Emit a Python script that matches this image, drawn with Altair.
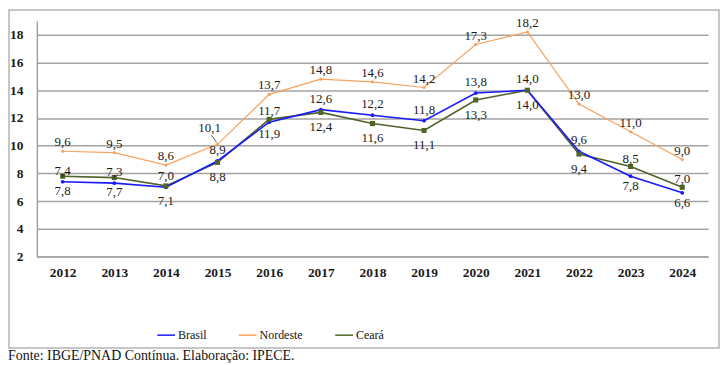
import altair as alt
import pandas as pd

years = [str(y) for y in range(2012, 2025)]
brasil = [7.4, 7.3, 7.0, 8.9, 11.7, 12.6, 12.2, 11.8, 13.8, 14.0, 9.6, 7.8, 6.6]
nordeste = [9.6, 9.5, 8.6, 10.1, 13.7, 14.8, 14.6, 14.2, 17.3, 18.2, 13.0, 11.0, 9.0]
ceara = [7.8, 7.7, 7.1, 8.8, 11.9, 12.4, 11.6, 11.1, 13.3, 14.0, 9.4, 8.5, 7.0]
y_ticks = [2, 4, 6, 8, 10, 12, 14, 16, 18]

brasil_pos = ["above"] * 11 + ["below"] * 2
nordeste_pos = ["above"] * 3 + ["leader"] + ["above"] * 9
ceara_pos = ["below"] * 11 + ["above"] * 2

series_names = ["Brasil", "Nordeste", "Ceará"]
colors = ["#1a1aff", "#f7a25e", "#4f6228"]
source_text = "Fonte: IBGE/PNAD Contínua. Elaboração: IPECE."

rows = []
for name, vals, pos in [("Brasil", brasil, brasil_pos),
                        ("Nordeste", nordeste, nordeste_pos),
                        ("Ceará", ceara, ceara_pos)]:
    for y, v, p in zip(years, vals, pos):
        rows.append({"year": y, "series": name, "value": v, "pos": p,
                     "label": f"{v:.1f}".replace(".", ",")})
df = pd.DataFrame(rows)

SERIF = "Liberation Serif"
GRID = "#a3a3a3"

x_enc = alt.X("year:O", scale=alt.Scale(type="point", padding=0.5),
              axis=alt.Axis(title=None, labelAngle=0, ticks=False, domainColor=GRID,
                            domainWidth=1.5, labelFont=SERIF, labelFontWeight="bold",
                            labelFontSize=13.5, labelColor="#1a1a1a", labelPadding=9,
                            grid=False, labelOverlap=False))
y_enc = alt.Y("value:Q", scale=alt.Scale(domain=[2, 19], nice=False, zero=False),
              axis=alt.Axis(title=None, values=y_ticks, ticks=False,
                            domainColor=GRID, domainWidth=1.5, gridColor=GRID,
                            gridWidth=1.5, labelFont=SERIF, labelFontWeight="bold",
                            labelFontSize=13.5, labelColor="#1a1a1a", labelPadding=14,
                            labelOverlap=False))
color_enc = alt.Color("series:N", scale=alt.Scale(domain=series_names, range=colors),
                      legend=alt.Legend(title=None))

base = alt.Chart(df)

layers = []
for name, sw in [("Nordeste", 1.2), ("Ceará", 1.6), ("Brasil", 1.6)]:
    layers.append(base.transform_filter(alt.datum.series == name)
                  .mark_line(strokeWidth=sw)
                  .encode(x=x_enc, y=y_enc, color=color_enc))
for name, shape, size in [("Nordeste", "circle", 10), ("Brasil", "circle", 14),
                          ("Ceará", "square", 26)]:
    layers.append(base.transform_filter(alt.datum.series == name)
                  .mark_point(shape=shape, size=size, filled=True, opacity=1)
                  .encode(x=x_enc, y=y_enc, color=color_enc))

layers.append(base.transform_filter(alt.datum.pos == "leader")
              .mark_rule(color="#333333", strokeWidth=0.8, xOffset=-6, yOffset=-9,
                         x2Offset=-1, y2Offset=-2)
              .encode(x=x_enc, x2="year", y=y_enc, y2="value"))

for name, pos, dx, dy in [("Nordeste", "above", 0, -9), ("Nordeste", "leader", -8, -16),
                          ("Brasil", "above", 0, -11), ("Brasil", "below", 0, 10),
                          ("Ceará", "above", 0, -8), ("Ceará", "below", 0, 15)]:
    layers.append(base.transform_filter((alt.datum.series == name) & (alt.datum.pos == pos))
                  .mark_text(font=SERIF, fontSize=13, color="#1a1a1a", dx=dx, dy=dy,
                             baseline="middle")
                  .encode(x=x_enc, y=y_enc, text="label:N"))

border = alt.Chart(pd.DataFrame({"a": [0]})).mark_rect(
    fill=None, stroke="#b4b4b4", strokeWidth=1.5).encode(
    x=alt.value(-28), x2=alt.value(686), y=alt.value(-11), y2=alt.value(329))
source = alt.Chart(pd.DataFrame({"t": [source_text]})).mark_text(
    font=SERIF, fontSize=14, color="#111111", align="left", baseline="alphabetic").encode(
    x=alt.value(-29), y=alt.value(341), text="t:N")

chart = alt.layer(border, *layers, source).properties(
    width=675, height=237,
    autosize=alt.AutoSizeParams(type="none"),
    padding={"left": 29, "top": 12, "right": 12, "bottom": 108},
).configure_view(stroke=None).configure_legend(
    orient="none", legendX=120, legendY=306, direction="horizontal",
    symbolType="stroke", symbolSize=320, symbolStrokeWidth=1.5,
    labelFont=SERIF, labelFontSize=12, labelColor="#111111", labelOffset=2,
    columnPadding=29,
)

chart.save("out.html", embed_options={"renderer": "svg", "actions": False})
